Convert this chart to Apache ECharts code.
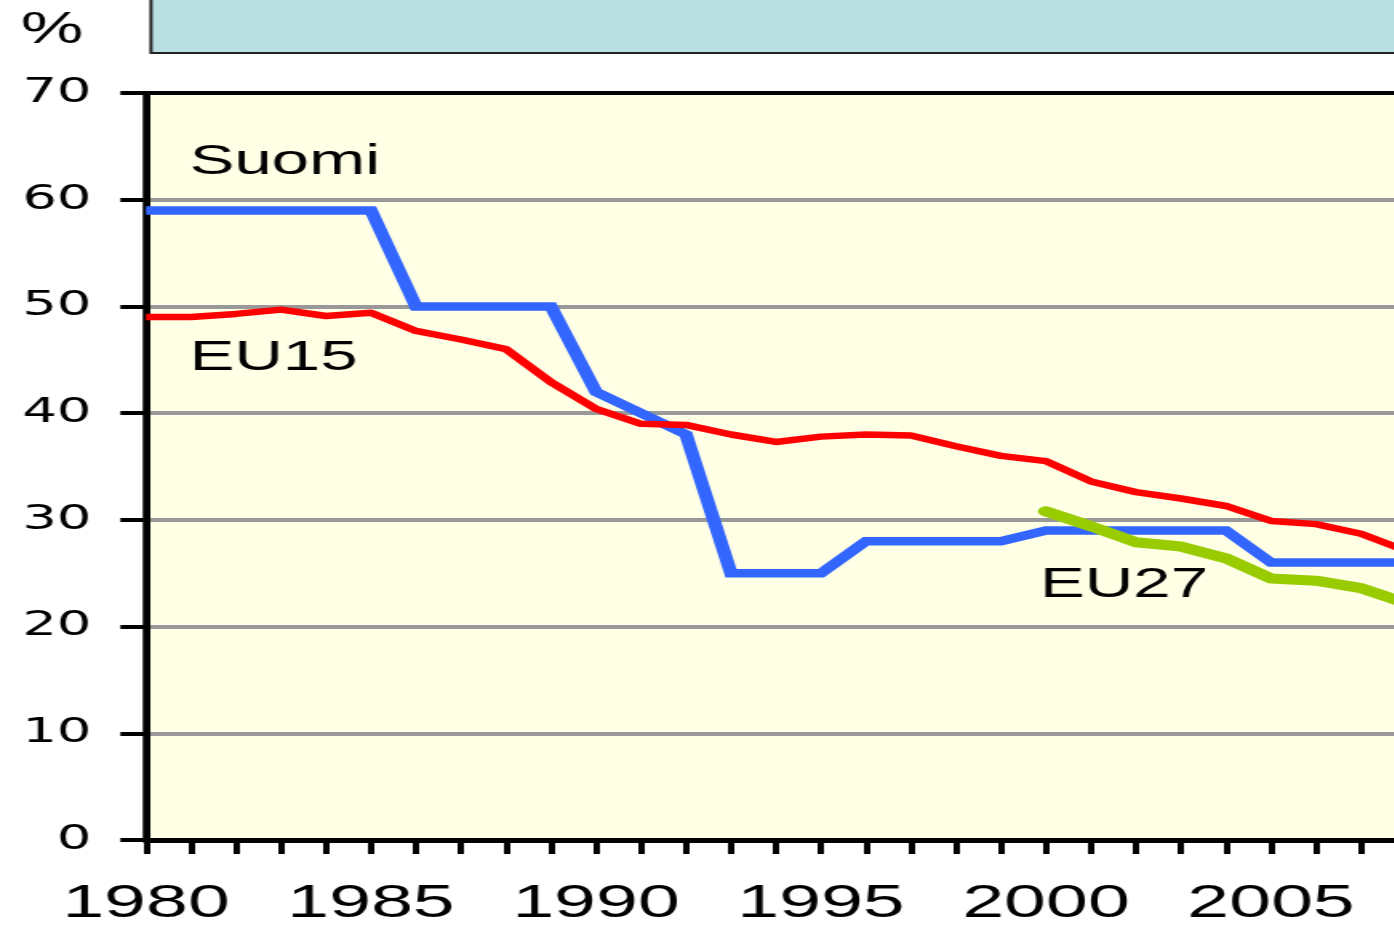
<!DOCTYPE html>
<html>
<head>
<meta charset="utf-8">
<script src="https://cdn.jsdelivr.net/npm/echarts@6/dist/echarts.min.js"></script>
<style>
  html, body { margin: 0; padding: 0; background: #ffffff; overflow: hidden; }
  /* the original slide is stretched sideways, so the whole chart is too */
  #chart { width: 900px; height: 928px; transform: scaleX(1.6); transform-origin: 0 0; }
</style>
</head>
<body>
<div id="chart"></div>
<script>
const years = [1980, 1981, 1982, 1983, 1984, 1985, 1986, 1987, 1988, 1989,
  1990, 1991, 1992, 1993, 1994, 1995, 1996, 1997, 1998, 1999,
  2000, 2001, 2002, 2003, 2004, 2005, 2006, 2007, 2008];
const suomi = [59, 59, 59, 59, 59, 59, 50, 50, 50, 50,
  42, 40, 38, 25, 25, 25, 28, 28, 28, 28,
  29, 29, 29, 29, 29, 26, 26, 26, 26];
const eu15 = [49.0, 49.0, 49.3, 49.7, 49.1, 49.4, 47.7, 46.9, 46.0, 42.9,
  40.4, 39.0, 38.9, 38.0, 37.3, 37.8, 38.0, 37.9, 36.9, 36.0,
  35.5, 33.6, 32.6, 32.0, 31.3, 29.9, 29.6, 28.7, 27.1];
const eu27 = [null, null, null, null, null, null, null, null, null, null,
  null, null, null, null, null, null, null, null, null, null,
  30.8, 29.4, 27.9, 27.5, 26.4, 24.5, 24.3, 23.6, 22.2];
const seriesNames = ['Suomi', 'EU15', 'EU27'];

const pairs = (vals) => years.map((y, i) => [y, vals[i]]).filter(p => p[1] !== null);
const font = 'Liberation Sans, Arial, sans-serif';

const chart = echarts.init(document.getElementById('chart'));
const option = {
  animation: false,
  grid: {
    left: 91.25,
    right: 21.25,
    top: 93,
    bottom: 86,
    show: true,
    backgroundColor: '#FFFFE6',
    borderColor: '#000000',
    borderWidth: 4
  },
  xAxis: {
    type: 'value',
    min: 1980,
    max: 2008,
    interval: 1,
    axisLine: { show: true, onZero: false, lineStyle: { color: '#000', width: 5 } },
    axisTick: { show: true, length: 14, lineStyle: { color: '#000', width: 4 } },
    splitLine: { show: false },
    axisLabel: {
      margin: 41,
      fontSize: 47,
      fontFamily: font,
      color: '#000',
      formatter: (v) => (v % 5 === 0 ? String(v) : '')
    }
  },
  yAxis: {
    type: 'value',
    min: 0,
    max: 70,
    interval: 10,
    axisLine: { show: true, lineStyle: { color: '#000', width: 4 } },
    axisTick: { show: true, length: 16, lineStyle: { color: '#000', width: 4 } },
    splitLine: {
      show: true,
      // top line (70) is the black frame of the plot
      lineStyle: { color: ['#999999', '#999999', '#999999', '#999999', '#999999', '#999999', '#999999', '#000000'], width: 4 }
    },
    axisLabel: { margin: 34, fontSize: 34, fontFamily: 'DejaVu Sans, sans-serif', color: '#000' }
  },
  graphic: [
    {
      type: 'rect',
      shape: { x: 94.4, y: -10, width: 900, height: 63 },
      style: { fill: '#BADFE3', stroke: '#222', lineWidth: 2 }
    },
    {
      type: 'text', left: 13, top: 9,
      style: { text: '%', fontSize: 44, fontFamily: font, fill: '#000' }
    },
    {
      type: 'text', x: 118.5, y: 162,
      style: { text: seriesNames[0], fontSize: 42, fontFamily: font, fill: '#000', verticalAlign: 'middle' }
    },
    {
      type: 'text', x: 118.5, y: 358,
      style: { text: seriesNames[1], fontSize: 42, fontFamily: font, fill: '#000', verticalAlign: 'middle' }
    },
    {
      type: 'text', x: 650, y: 585,
      style: { text: seriesNames[2], fontSize: 42, fontFamily: font, fill: '#000', verticalAlign: 'middle' }
    }
  ],
  series: [
    {
      name: seriesNames[0],
      type: 'line',
      data: pairs(suomi),
      showSymbol: false,
      lineStyle: { color: '#3366FF', width: 8.5, join: 'miter' },
      z: 2
    },
    {
      name: seriesNames[1],
      type: 'line',
      data: pairs(eu15),
      showSymbol: false,
      lineStyle: { color: '#FF0000', width: 6.5, join: 'round' },
      z: 3
    },
    {
      name: seriesNames[2],
      type: 'line',
      data: pairs(eu27),
      showSymbol: false,
      lineStyle: { color: '#99CC00', width: 10, cap: 'round', join: 'round' },
      z: 4
    }
  ]
};
chart.setOption(option);
</script>
</body>
</html>
